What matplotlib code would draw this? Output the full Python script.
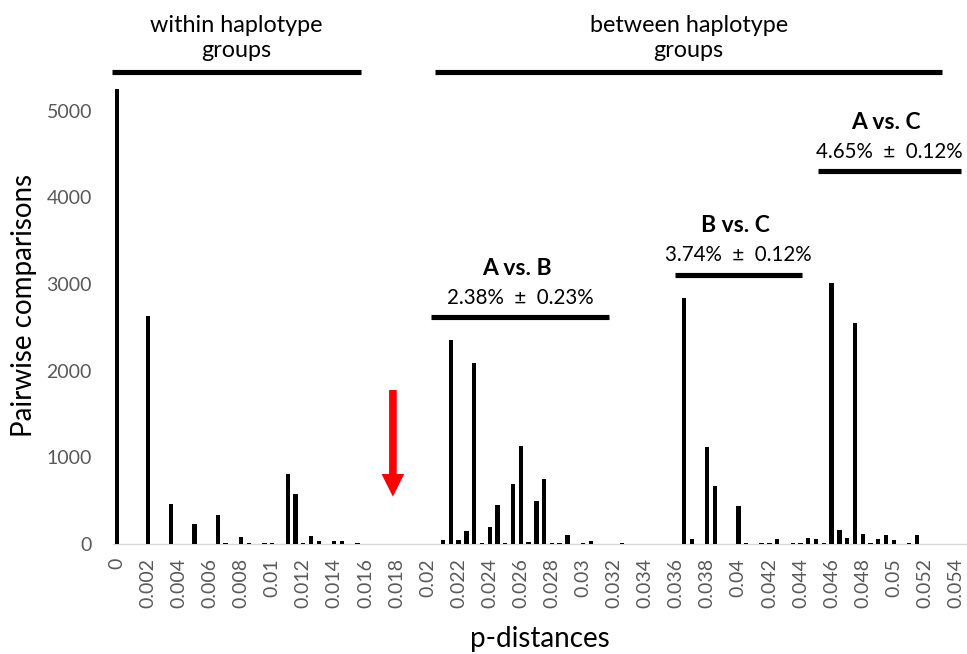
import matplotlib
matplotlib.use('Agg')
import matplotlib.pyplot as plt

# p-distance bins (bin width 0.0005) and number of pairwise comparisons
within_p = [0.0, 0.002, 0.0035, 0.005, 0.0065, 0.007, 0.008, 0.0085, 0.0095,
            0.01, 0.011, 0.0115, 0.012, 0.0125, 0.013, 0.014, 0.0145, 0.0155]
within_n = [5248, 2630, 465, 228, 330, 15, 76, 12, 10,
            10, 805, 575, 15, 88, 30, 38, 30, 8]

between_p = [0.021, 0.0215, 0.022, 0.0225, 0.023, 0.0235, 0.024, 0.0245,
             0.025, 0.0255, 0.026, 0.0265, 0.027, 0.0275, 0.028, 0.0285,
             0.029, 0.03, 0.0305, 0.0325,
             0.0365, 0.037, 0.038, 0.0385, 0.04, 0.0405, 0.0415, 0.042,
             0.0425, 0.0435, 0.044, 0.0445, 0.045, 0.0455,
             0.046, 0.0465, 0.047, 0.0475, 0.048, 0.0485, 0.049, 0.0495,
             0.05, 0.051, 0.0515, 0.053, 0.0545]
between_n = [46, 2350, 46, 150, 2085, 10, 200, 446,
             10, 692, 1132, 25, 495, 748, 10, 10,
             100, 10, 40, 6,
             2834, 54, 1122, 669, 442, 15, 8, 12,
             54, 8, 15, 65, 60, 10,
             3014, 161, 65, 2545, 115, 10, 61, 104,
             50, 8, 107, 5, 5]

tick_values = [i * 0.002 for i in range(28)]
tick_labels = ['{:g}'.format(round(v, 3)) for v in tick_values]

# group brackets: (title, subtitle, x start, x end, height)
pair_titles = ['A vs. B', 'B vs. C', 'A vs. C']
pair_means = ['2.38%  \u00b1  0.23%', '3.74%  \u00b1  0.12%', '4.65%  \u00b1  0.12%']
pair_start = [0.0202, 0.0359, 0.0451]
pair_end = [0.0317, 0.0441, 0.0543]
pair_height = [2618, 3103, 4302]

group_labels = ['within haplotype\ngroups', 'between haplotype\ngroups']
group_start = [-0.0003, 0.0205]
group_end = [0.0157, 0.0531]

FONT = ['Lato', 'DejaVu Sans']
plt.rcParams['font.family'] = FONT

fig = plt.figure(figsize=(9.67, 6.54), dpi=100)
ax = fig.add_axes([0.1167, 0.1682, 0.8839, 0.7291])

ax.bar(within_p + between_p, within_n + between_n, width=0.00028,
       color='black', zorder=3)

ax.set_xlim(-0.00025, 0.05475)
ax.set_ylim(0, 5500)
ax.set_yticks([0, 1000, 2000, 3000, 4000, 5000])
ax.set_xticks(tick_values)
ax.set_xticklabels(tick_labels, rotation=90, va='top', ha='center')
ax.tick_params(axis='both', length=0, labelsize=14, labelcolor='#595959')
ax.tick_params(axis='x', pad=10)
ax.tick_params(axis='y', pad=15)

for side in ['left', 'right', 'top']:
    ax.spines[side].set_visible(False)
ax.spines['bottom'].set_color('#D9D9D9')
ax.spines['bottom'].set_linewidth(1.0)

ax.set_ylabel('Pairwise comparisons', fontsize=20, labelpad=7)
ax.set_xlabel('p-distances', fontsize=20, labelpad=13)

# within / between brackets at the top
for lab, x0, x1 in zip(group_labels, group_start, group_end):
    ax.plot([x0, x1], [5440, 5440], color='black', lw=3.7,
            solid_capstyle='butt', clip_on=False)
    ax.text((x0 + x1) / 2, 5836, lab, ha='center', va='center',
            fontsize=16.8, linespacing=1.2)

# pairwise group brackets
for t, m, x0, x1, h in zip(pair_titles, pair_means, pair_start,
                           pair_end, pair_height):
    mid = (x0 + x1) / 2
    ax.plot([x0, x1], [h, h], color='black', lw=3.7,
            solid_capstyle='butt', zorder=4)
    ax.text(mid, h + 225, m, ha='center', va='center', fontsize=14.8)
    ax.text(mid - 0.0002, h + 565, t, ha='center', va='center',
            fontsize=16.5, fontweight='bold')

# red arrow marking the gap
ax.annotate('', xy=(0.01777, 546), xytext=(0.01777, 1776),
            arrowprops=dict(width=5.5, headwidth=16.3, headlength=16.3,
                            shrink=0, color='#FF0000', lw=0))

fig.savefig('out.png', dpi=100)
